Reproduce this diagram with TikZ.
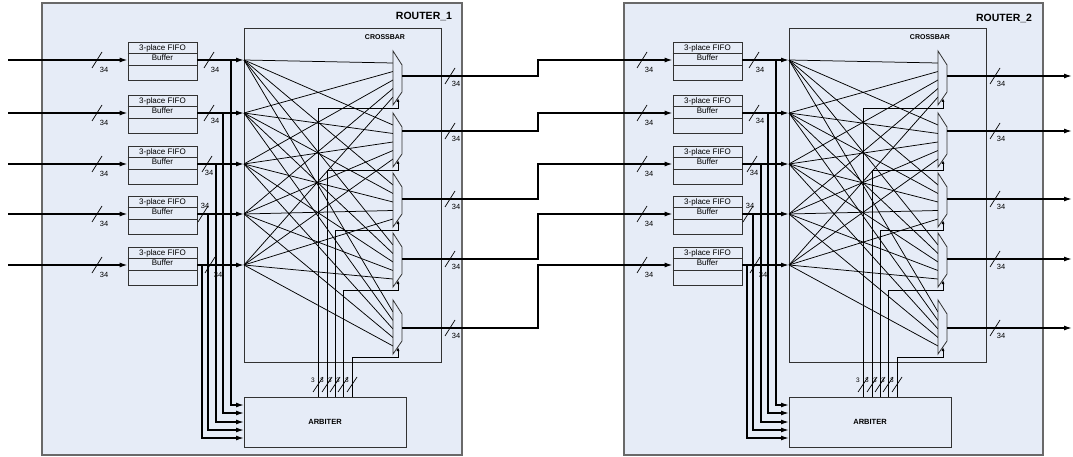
\documentclass[tikz,border=0pt]{standalone}
\usepackage{fontspec}
\setmainfont{Liberation Sans}
\usetikzlibrary{arrows.meta,positioning,calc}

\definecolor{routerbg}{RGB}{230,236,247}
\definecolor{routeredge}{RGB}{105,105,105}
\definecolor{boxedge}{RGB}{50,50,50}

\tikzstyle{router} = [draw=routeredge, line width=1.2pt, fill=routerbg]
\tikzstyle{fifo} = [rectangle, draw=boxedge, line width=0.8pt,
    minimum width=69pt, minimum height=38pt, inner sep=0pt]
\tikzstyle{arbiter} = [rectangle, draw=boxedge, line width=0.8pt,
    minimum width=162pt, minimum height=50pt,
    font=\fontsize{7.5}{8}\selectfont\bfseries]
\tikzstyle{bus} = [line width=1.4pt, -{Latex[length=8pt,width=5pt]}]
\tikzstyle{wire} = [line width=0.75pt]
\tikzstyle{selwire} = [line width=0.8pt, -{Latex[length=4pt,width=3pt]}]
\tikzstyle{mux} = [draw=boxedge, line width=0.8pt, fill=routerbg]
\tikzstyle{widthtext} = [inner sep=0pt, font=\fontsize{7.5}{8}\selectfont]
\tikzstyle{fifotext} = [inner sep=0pt, font=\fontsize{8}{9}\selectfont]

% slash through (#1,#2) marking a bus, its width #5 written at (#3,#4)
\newcommand{\buswidth}[5]{%
  \draw[line width=0.7pt] (#1-5,#2+8) -- (#1+5,#2-8);
  \node[widthtext] at (#3,#4) {#5};}

\begin{document}
\begin{tikzpicture}[x=1pt,y=-1pt]
  \useasboundingbox (0,0) rectangle (1073,457);

  \draw[router] (42,3) rectangle (462,455);
  \draw[router] (624,3) rectangle (1043,455);
  \node[font=\fontsize{10.5}{12}\selectfont\bfseries] (r1name) at (424,16) {ROUTER\_1};
  \node[font=\fontsize{10.5}{12}\selectfont\bfseries] (r2name) at (1004,18) {ROUTER\_2};

  \foreach \rr/\dx in {1/0,2/545} {
  \begin{scope}[xshift=\dx pt]
    % crossbar and arbiter
    \draw[draw=boxedge, line width=0.8pt] (244,28) rectangle (441,362);
    \node[font=\fontsize{7}{8}\selectfont\bfseries] (r\rr xname) at (385,37) {CROSSBAR};
    \node[arbiter] (r\rr arb) at (325,422) {ARBITER};

    % input buffers, their buses into the crossbar and to the arbiter
    \foreach \i/\y/\bx/\ay/\sx/\lx/\ly in {1/60/231/405/209/215/70,
        2/113/223/413/209/215/121, 3/164/216/422/207/209/173,
        4/214/208/430/203/205/206, 5/265/202/438/210/218/275} {
      \node[fifo] (r\rr f\i) at (162.5,\y+1) {};
      \draw[draw=boxedge, line width=0.8pt]
        ([yshift=-12pt]r\rr f\i.north west) -- ([yshift=-12pt]r\rr f\i.north east)
        ([yshift=-24pt]r\rr f\i.north west) -- ([yshift=-24pt]r\rr f\i.north east);
      \node[fifotext] (r\rr f\i t) at ([yshift=-7pt]r\rr f\i.north) {3-place FIFO};
      \node[fifotext] (r\rr f\i b) at ([yshift=-16pt]r\rr f\i.north) {Buffer};
      \coordinate (r\rr x\i) at (244,\y);
      \coordinate (r\rr b\i) at (\bx,\y);
      \coordinate (r\rr a\i) at (244,\ay);
      \draw[bus] (r\rr f\i.east |- r\rr x\i) -- (r\rr x\i);
      \draw[bus] (r\rr b\i) |- (r\rr a\i);
      \buswidth{97}{\y}{104}{\y+10}{34}
      \buswidth{\sx}{\y}{\lx}{\ly}{34}
    }

    % output multiplexers
    \foreach \j/\mt/\mo in {1/51/76, 2/113/131, 3/173/199, 4/233/259, 5/300/328} {
      \foreach \k in {1,...,5}
        \coordinate (r\rr m\j i\k) at (393,\mt+3.5+8.5*\k);
      \coordinate (r\rr m\j o) at (402,\mo);
      \coordinate (r\rr s\j) at (398,\mt+47);
    }
    \foreach \i in {1,...,5}
      \foreach \j in {1,...,5}
        \draw[wire] (r\rr x\i) -- (r\rr m\j i\i);
    \foreach \j/\mt/\mo/\sel in {1/51/76/318, 2/113/131/327, 3/173/199/335,
        4/233/259/343, 5/300/328/352} {
      \draw[mux] (393,\mt) -- (402,\mt+14) -- (402,\mt+41) -- (393,\mt+54) -- cycle;
      \draw[selwire] (r\rr arb.north -| \sel,0) |- (398,\mt+57) -- (r\rr s\j);
      \draw[line width=0.7pt] (\sel-5,392) -- (\sel+5,377);
      \node[widthtext, font=\fontsize{6.5}{7}\selectfont] at (\sel-5,380) {3};
      \buswidth{450}{\mo}{456}{\mo+8}{34}
    }
  \end{scope}
  }

  % buses coming in, between the routers and going out
  \foreach \i/\y in {1/60,2/113,3/164,4/214,5/265} {
    \coordinate (in\i) at (8,\y);
    \draw[bus] (in\i) -- (r1f\i.west |- r1x\i);
  }
  \foreach \j/\mo in {1/76,2/131,3/199,4/259,5/328} {
    \coordinate (jog\j) at (538,\mo);
    \coordinate (out\j) at (1072,\mo);
    \draw[bus] (r1m\j o) -- (jog\j) |- (r2f\j.west |- r2x\j);
    \draw[bus] (r2m\j o) -- (out\j);
  }
\end{tikzpicture}
\end{document}
